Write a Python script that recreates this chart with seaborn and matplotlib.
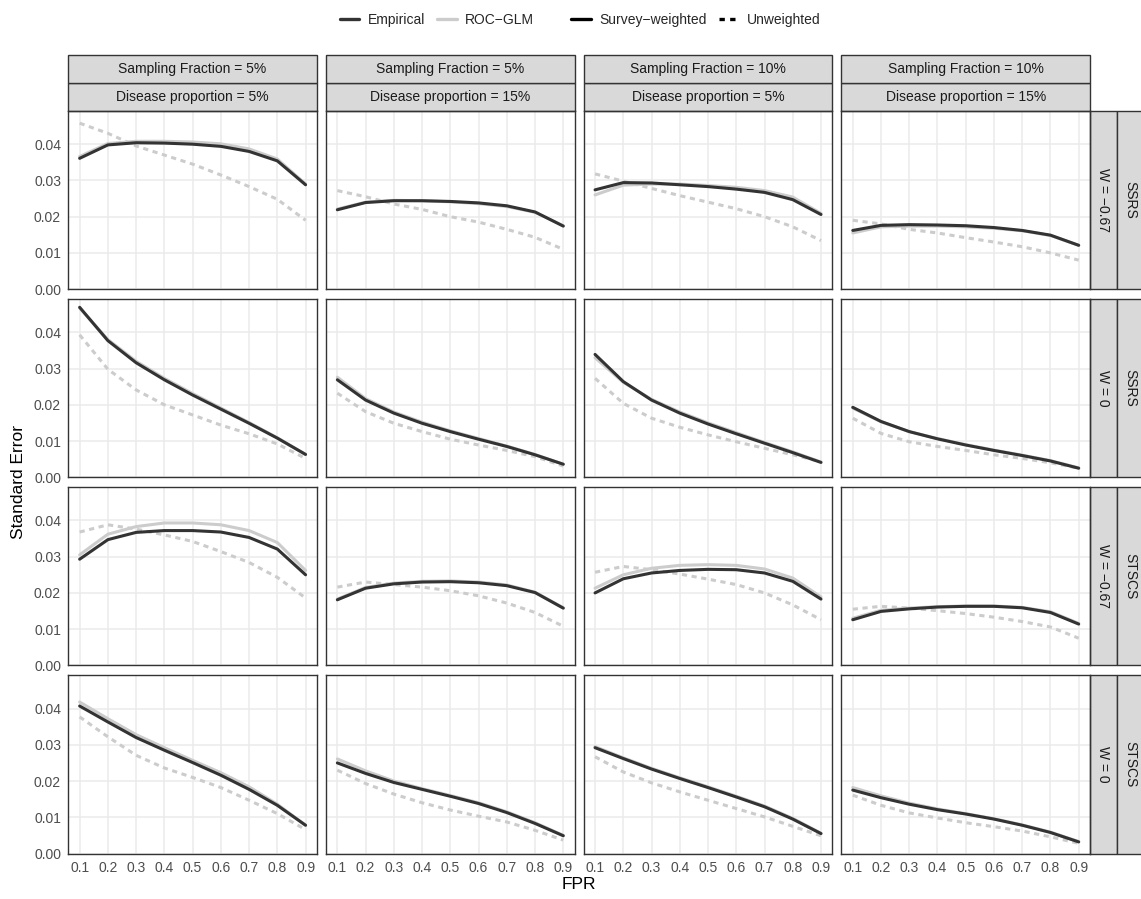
import pandas as pd
import seaborn as sns
import matplotlib.pyplot as plt
from matplotlib.lines import Line2D
from matplotlib.patches import Rectangle

# x values shared by every panel
fpr = [0.1, 0.2, 0.3, 0.4, 0.5, 0.6, 0.7, 0.8, 0.9]

# facet labels
col_top = ['Sampling Fraction = 5%', 'Sampling Fraction = 5%',
           'Sampling Fraction = 10%', 'Sampling Fraction = 10%']
col_bottom = ['Disease proportion = 5%', 'Disease proportion = 15%',
              'Disease proportion = 5%', 'Disease proportion = 15%']
row_inner = ['W = \u22120.67', 'W = 0', 'W = \u22120.67', 'W = 0']
row_outer = ['SSRS', 'SSRS', 'STSCS', 'STSCS']

# row 1: SSRS, W = -0.67 (one list per column)
emp_row1 = [[0.0361, 0.0398, 0.0404, 0.0403, 0.0400, 0.0394, 0.0380, 0.0354, 0.0288],
            [0.0219, 0.0239, 0.0244, 0.0244, 0.0242, 0.0238, 0.0230, 0.0213, 0.0174],
            [0.0274, 0.0294, 0.0293, 0.0288, 0.0283, 0.0276, 0.0267, 0.0247, 0.0206],
            [0.0162, 0.0176, 0.0178, 0.0177, 0.0175, 0.0170, 0.0162, 0.0149, 0.0121]]
roc_row1 = [[0.0366, 0.0402, 0.0408, 0.0408, 0.0406, 0.0401, 0.0387, 0.0359, 0.0290],
            [0.0221, 0.0240, 0.0245, 0.0244, 0.0241, 0.0236, 0.0228, 0.0212, 0.0175],
            [0.0260, 0.0287, 0.0290, 0.0290, 0.0286, 0.0281, 0.0272, 0.0254, 0.0209],
            [0.0155, 0.0172, 0.0174, 0.0174, 0.0172, 0.0168, 0.0161, 0.0148, 0.0121]]
unw_row1 = [[0.0458, 0.0430, 0.0395, 0.0370, 0.0345, 0.0315, 0.0283, 0.0248, 0.0190],
            [0.0272, 0.0255, 0.0235, 0.0220, 0.0200, 0.0185, 0.0165, 0.0143, 0.0110],
            [0.0318, 0.0298, 0.0278, 0.0258, 0.0240, 0.0222, 0.0200, 0.0172, 0.0134],
            [0.0190, 0.0180, 0.0165, 0.0155, 0.0142, 0.0130, 0.0117, 0.0100, 0.0080]]

# row 2: SSRS, W = 0
emp_row2 = [[0.0469, 0.0377, 0.0316, 0.0269, 0.0227, 0.0188, 0.0149, 0.0108, 0.0063],
            [0.0269, 0.0213, 0.0177, 0.0149, 0.0126, 0.0105, 0.0085, 0.0062, 0.0036],
            [0.0339, 0.0264, 0.0213, 0.0177, 0.0147, 0.0120, 0.0094, 0.0068, 0.0041],
            [0.0193, 0.0154, 0.0126, 0.0106, 0.0089, 0.0074, 0.0060, 0.0045, 0.0025]]
roc_row2 = [[0.0467, 0.0380, 0.0320, 0.0273, 0.0231, 0.0191, 0.0151, 0.0109, 0.0063],
            [0.0276, 0.0217, 0.0180, 0.0152, 0.0128, 0.0107, 0.0086, 0.0063, 0.0036],
            [0.0330, 0.0262, 0.0215, 0.0180, 0.0150, 0.0123, 0.0096, 0.0070, 0.0042],
            [0.0191, 0.0153, 0.0126, 0.0107, 0.0090, 0.0075, 0.0061, 0.0046, 0.0026]]
unw_row2 = [[0.0393, 0.0298, 0.0241, 0.0200, 0.0172, 0.0144, 0.0120, 0.0092, 0.0052],
            [0.0232, 0.0181, 0.0149, 0.0126, 0.0105, 0.0089, 0.0074, 0.0057, 0.0031],
            [0.0273, 0.0204, 0.0163, 0.0138, 0.0117, 0.0098, 0.0080, 0.0062, 0.0043],
            [0.0163, 0.0121, 0.0098, 0.0085, 0.0074, 0.0062, 0.0052, 0.0040, 0.0025]]

# row 3: STSCS, W = -0.67
emp_row3 = [[0.0293, 0.0347, 0.0367, 0.0372, 0.0372, 0.0368, 0.0353, 0.0321, 0.0250],
            [0.0181, 0.0213, 0.0225, 0.0230, 0.0231, 0.0228, 0.0220, 0.0201, 0.0158],
            [0.0200, 0.0239, 0.0255, 0.0262, 0.0265, 0.0264, 0.0255, 0.0232, 0.0183],
            [0.0126, 0.0149, 0.0156, 0.0161, 0.0163, 0.0163, 0.0159, 0.0146, 0.0114]]
roc_row3 = [[0.0305, 0.0362, 0.0383, 0.0393, 0.0393, 0.0388, 0.0372, 0.0339, 0.0262],
            [0.0183, 0.0215, 0.0227, 0.0232, 0.0233, 0.0230, 0.0222, 0.0202, 0.0159],
            [0.0213, 0.0250, 0.0268, 0.0276, 0.0278, 0.0276, 0.0266, 0.0241, 0.0189],
            [0.0130, 0.0152, 0.0158, 0.0162, 0.0164, 0.0164, 0.0160, 0.0148, 0.0116]]
unw_row3 = [[0.0368, 0.0388, 0.0376, 0.0360, 0.0342, 0.0314, 0.0284, 0.0243, 0.0186],
            [0.0216, 0.0230, 0.0223, 0.0216, 0.0206, 0.0192, 0.0172, 0.0146, 0.0108],
            [0.0257, 0.0273, 0.0264, 0.0252, 0.0238, 0.0223, 0.0200, 0.0167, 0.0126],
            [0.0155, 0.0163, 0.0158, 0.0151, 0.0143, 0.0133, 0.0121, 0.0106, 0.0075]]

# row 4: STSCS, W = 0
emp_row4 = [[0.0407, 0.0363, 0.0320, 0.0285, 0.0251, 0.0216, 0.0177, 0.0133, 0.0078],
            [0.0250, 0.0221, 0.0196, 0.0177, 0.0158, 0.0138, 0.0113, 0.0083, 0.0049],
            [0.0292, 0.0262, 0.0233, 0.0207, 0.0182, 0.0156, 0.0129, 0.0095, 0.0055],
            [0.0175, 0.0154, 0.0136, 0.0121, 0.0109, 0.0095, 0.0078, 0.0058, 0.0032]]
roc_row4 = [[0.0418, 0.0372, 0.0328, 0.0292, 0.0257, 0.0223, 0.0184, 0.0136, 0.0078],
            [0.0261, 0.0228, 0.0200, 0.0179, 0.0160, 0.0140, 0.0115, 0.0085, 0.0050],
            [0.0295, 0.0264, 0.0235, 0.0209, 0.0184, 0.0158, 0.0131, 0.0097, 0.0056],
            [0.0182, 0.0159, 0.0139, 0.0123, 0.0110, 0.0096, 0.0079, 0.0059, 0.0033]]
unw_row4 = [[0.0377, 0.0322, 0.0271, 0.0236, 0.0210, 0.0182, 0.0147, 0.0110, 0.0066],
            [0.0230, 0.0193, 0.0164, 0.0140, 0.0120, 0.0103, 0.0087, 0.0064, 0.0037],
            [0.0267, 0.0225, 0.0195, 0.0170, 0.0147, 0.0124, 0.0101, 0.0075, 0.0049],
            [0.0161, 0.0133, 0.0112, 0.0098, 0.0085, 0.0074, 0.0062, 0.0046, 0.0028]]

emp_rows = [emp_row1, emp_row2, emp_row3, emp_row4]
roc_rows = [roc_row1, roc_row2, roc_row3, roc_row4]
unw_rows = [unw_row1, unw_row2, unw_row3, unw_row4]

# long format for seaborn
records = []
for r in range(4):
    for c in range(4):
        series = [('ROC-GLM', 'Unweighted', unw_rows[r][c]),
                  ('ROC-GLM', 'Survey-weighted', roc_rows[r][c]),
                  ('Empirical', 'Survey-weighted', emp_rows[r][c])]
        for method, weighting, vals in series:
            for x, y in zip(fpr, vals):
                records.append({'FPR': x, 'SE': y, 'row': r, 'col': c,
                                'method': method, 'weighting': weighting})
df = pd.DataFrame(records)

dark = '#333333'
light = '#cccccc'

sns.set_theme(style='whitegrid', rc={
    'axes.edgecolor': dark, 'axes.linewidth': 1.0, 'axes.axisbelow': True,
    'grid.color': '#ebebeb', 'grid.linewidth': 1.1,
    'xtick.major.size': 3.2, 'ytick.major.size': 3.2,
    'xtick.major.width': 1.0, 'ytick.major.width': 1.0,
    'xtick.color': dark, 'ytick.color': dark,
    'xtick.labelcolor': '#4d4d4d', 'ytick.labelcolor': '#4d4d4d',
    'xtick.major.pad': 2.0, 'ytick.major.pad': 2.0,
    'xtick.labelsize': 10, 'ytick.labelsize': 10,
})
plt.rcParams['font.family'] = ['Liberation Sans', 'DejaVu Sans']

g = sns.relplot(data=df, x='FPR', y='SE', row='row', col='col', kind='line',
                hue='method', style='weighting',
                hue_order=['ROC-GLM', 'Empirical'],
                style_order=['Unweighted', 'Survey-weighted'],
                palette={'ROC-GLM': light, 'Empirical': dark},
                dashes={'Survey-weighted': '', 'Unweighted': (1.7, 1.5)},
                linewidth=2.2, legend=False, errorbar=None,
                height=2, aspect=1.4, facet_kws={'despine': False})

fig = g.figure
fig.set_size_inches(11.41, 8.99)
fig.subplots_adjust(left=0.0599, right=0.9553, top=0.8769, bottom=0.0506,
                    wspace=0.037, hspace=0.054)

strip_h = 27.6 / 178.5
strip_w = 27.0 / 248.5
strip_fill = '#d9d9d9'

for r in range(4):
    for c in range(4):
        ax = g.axes[r, c]
        ax.set_title('')
        ax.set_xlabel('')
        ax.set_ylabel('')
        ax.set_xlim(0.06, 0.94)
        ax.set_ylim(0, 0.04925)
        ax.set_xticks(fpr)
        ax.set_yticks([0.0, 0.01, 0.02, 0.03, 0.04])
        ax.grid(True, which='major')
        for s in ax.spines.values():
            s.set_visible(True)
            s.set_color(dark)
            s.set_linewidth(1.0)
        if c == 0:
            ax.set_yticklabels(['0.00', '0.01', '0.02', '0.03', '0.04'])
        else:
            ax.tick_params(axis='y', left=False, labelleft=False)
        if r == 3:
            ax.set_xticklabels([f'{v:.1f}' for v in fpr])
        else:
            ax.tick_params(axis='x', bottom=False, labelbottom=False)

        # column strips
        if r == 0:
            for k, label in enumerate([col_bottom[c], col_top[c]]):
                y0 = 1 + k * strip_h
                ax.add_patch(Rectangle((0, y0), 1, strip_h, transform=ax.transAxes,
                                       facecolor=strip_fill, edgecolor=dark,
                                       linewidth=1.0, clip_on=False))
                ax.text(0.5, y0 + strip_h / 2, label, transform=ax.transAxes,
                        ha='center', va='center', fontsize=10, color='#1a1a1a')
        # row strips
        if c == 3:
            for k, label in enumerate([row_inner[r], row_outer[r]]):
                x0 = 1 + k * strip_w
                ax.add_patch(Rectangle((x0, 0), strip_w, 1, transform=ax.transAxes,
                                       facecolor=strip_fill, edgecolor=dark,
                                       linewidth=1.0, clip_on=False))
                ax.text(x0 + strip_w / 2, 0.5, label, transform=ax.transAxes,
                        ha='center', va='center', rotation=-90,
                        fontsize=10, color='#1a1a1a')

fig.text(0.0158, 0.464, 'Standard Error', rotation=90, ha='center', va='center',
         fontsize=12.5, color='black')
fig.text(0.5075, 0.0156, 'FPR', ha='center', va='center', fontsize=12.5, color='black')

# legends on top
method_handles = [Line2D([], [], color=dark, lw=2.4), Line2D([], [], color=light, lw=2.4)]
weight_handles = [Line2D([], [], color='black', lw=2.4),
                  Line2D([], [], color='black', lw=2.4, ls=(0, (1.6, 1.6)))]
leg_kw = dict(frameon=False, ncol=2, fontsize=10, handlelength=1.4,
              handletextpad=0.6, columnspacing=0.9, loc='center')
fig.legend(method_handles, ['Empirical', 'ROC\u2212GLM'],
           bbox_to_anchor=(0.383, 0.978), **leg_kw)
fig.legend(weight_handles, ['Survey\u2212weighted', 'Unweighted'],
           bbox_to_anchor=(0.610, 0.978), **leg_kw)

fig.savefig('out.png', dpi=100)
